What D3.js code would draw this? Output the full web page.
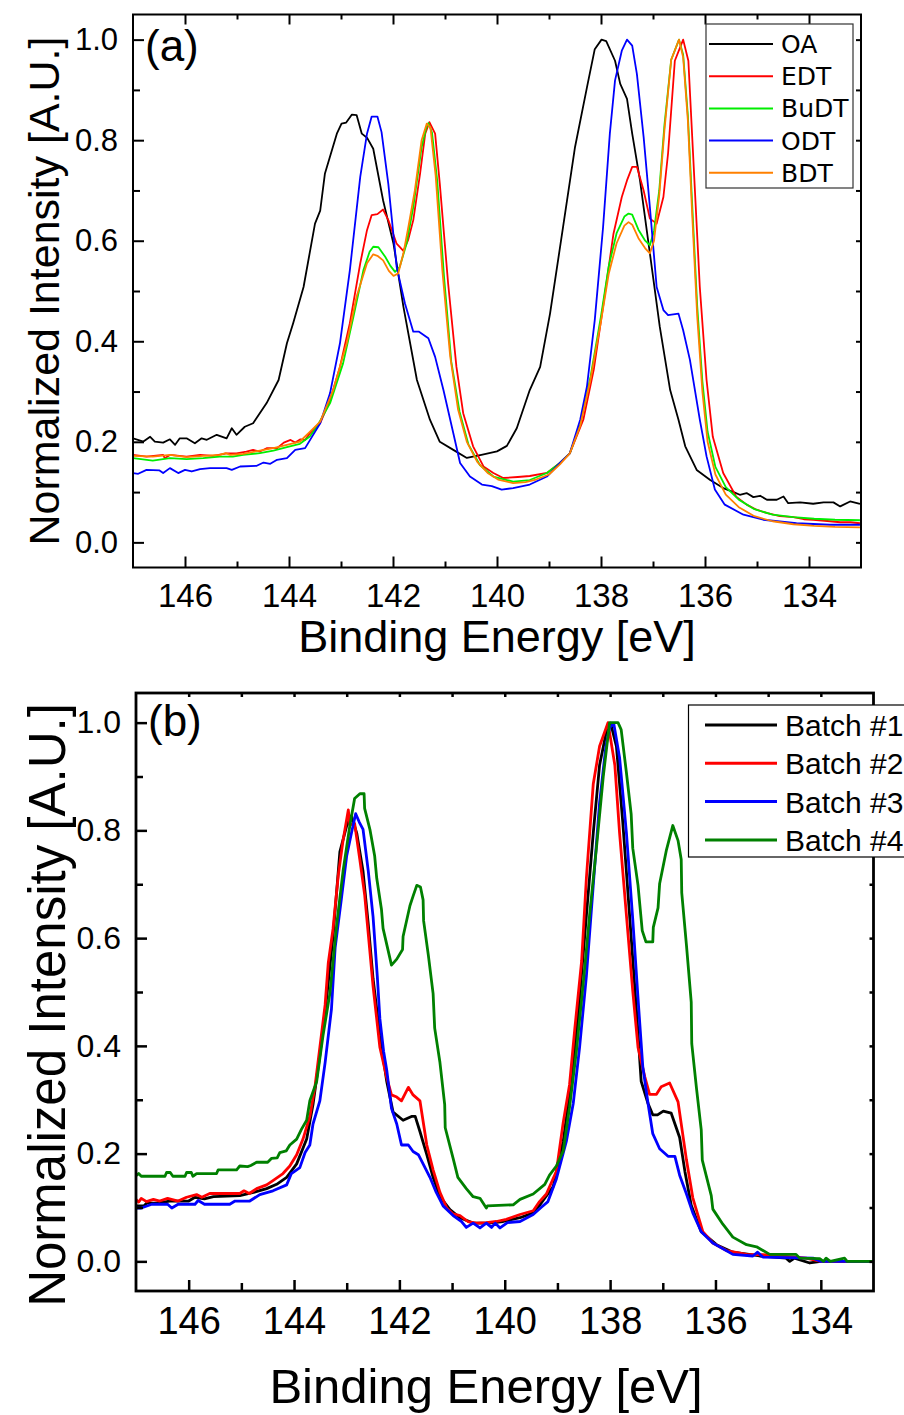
<!DOCTYPE html>
<meta charset="utf-8">

<style>

body {
  margin: 0;
  background: #fff;
}

svg {
  display: block;
}

text {
  font-family: "Liberation Sans", Arial, sans-serif;
  fill: #000;
}

.legend-a text {
  font-family: "DejaVu Sans", sans-serif;
}

.curve {
  fill: none;
  stroke-linejoin: round;
}

</style>
<svg width="904" height="1415"></svg>
<script src="https://d3js.org/d3.v7.min.js"></script>
<script>

// ---- data: [binding energy (eV), normalized intensity] ----

var energyMajor = [146, 144, 142, 140, 138, 136, 134],
    energyMinor = [145, 143, 141, 139, 137, 135],
    intensityMajor = [0, 0.2, 0.4, 0.6, 0.8, 1.0],
    intensityMinor = [0.1, 0.3, 0.5, 0.7, 0.9];

var namesA = ["OA", "EDT", "BuDT", "ODT", "BDT"],
    namesB = ["Batch #1", "Batch #2", "Batch #3", "Batch #4"];

var oaData = [
  [147.0,0.207],[146.8,0.2005],[146.67,0.210],[146.58,0.2005],[146.42,0.1985],[146.29,0.205],
  [146.19,0.194],[146.1,0.207],[145.97,0.207],[145.81,0.197],[145.68,0.207],[145.58,0.204],
  [145.39,0.214],[145.2,0.207],[145.1,0.227],[145.01,0.214],[144.85,0.23],[144.69,0.237],
  [144.43,0.277],[144.2,0.323],[144.04,0.396],[143.92,0.436],[143.72,0.508],[143.5,0.634],
  [143.4,0.66],[143.31,0.733],[143.08,0.813],[142.99,0.833],[142.9,0.835],[142.79,0.851],
  [142.7,0.85],[142.6,0.813],[142.5,0.805],[142.38,0.783],[142.19,0.68],[141.99,0.594],
  [141.8,0.469],[141.54,0.323],[141.29,0.244],[141.1,0.2],[140.84,0.184],[140.58,0.168],
  [140.3,0.174],[140.0,0.181],[139.81,0.192],[139.62,0.227],[139.37,0.303],[139.17,0.349],
  [138.98,0.455],[138.73,0.627],[138.5,0.786],[138.27,0.905],[138.12,0.981],[137.99,1.0],
  [137.9,0.997],[137.73,0.958],[137.63,0.912],[137.5,0.882],[137.4,0.813],[137.25,0.72],
  [137.06,0.575],[136.87,0.429],[136.67,0.303],[136.51,0.244],[136.38,0.191],[136.16,0.144],
  [135.9,0.124],[135.65,0.108],[135.45,0.1],[135.33,0.0947],[135.2,0.098],[135.07,0.09],
  [134.94,0.0927],[134.81,0.0848],[134.62,0.0848],[134.49,0.0913],[134.4,0.078],[134.17,0.0795],
  [133.92,0.0768],[133.72,0.0795],[133.53,0.0795],[133.4,0.0715],[133.21,0.0814],[133.02,0.0768]
];

var edtData = [
  [147.0,0.174],[146.74,0.1707],[146.42,0.174],[146.39,0.1675],[146.29,0.174],[145.97,0.1707],
  [145.71,0.174],[145.46,0.172],[145.2,0.177],[145.01,0.177],[144.82,0.1807],[144.69,0.184],
  [144.56,0.1807],[144.43,0.1873],[144.23,0.1873],[144.1,0.1985],[143.97,0.2038],[143.88,0.1985],
  [143.78,0.205],[143.69,0.2038],[143.6,0.217],[143.4,0.237],[143.21,0.283],[143.02,0.349],
  [142.83,0.436],[142.63,0.555],[142.5,0.621],[142.41,0.651],[142.3,0.653],[142.19,0.662],
  [142.09,0.641],[141.93,0.594],[141.8,0.58],[141.71,0.601],[141.61,0.641],[141.48,0.733],
  [141.38,0.813],[141.3,0.836],[141.19,0.813],[141.1,0.713],[140.94,0.515],[140.78,0.349],
  [140.65,0.257],[140.46,0.191],[140.26,0.151],[140.07,0.138],[139.88,0.128],[139.6,0.13],
  [139.37,0.132],[139.04,0.138],[138.79,0.158],[138.6,0.177],[138.34,0.244],[138.14,0.343],
  [137.96,0.469],[137.76,0.614],[137.6,0.687],[137.5,0.72],[137.4,0.747],[137.31,0.747],
  [137.18,0.7],[137.06,0.644],[136.93,0.634],[136.8,0.687],[136.71,0.774],[136.58,0.958],
  [136.42,1.0],[136.32,0.958],[136.23,0.774],[136.1,0.508],[135.97,0.323],[135.85,0.21],
  [135.65,0.138],[135.4,0.091],[135.2,0.075],[135.01,0.065],[134.8,0.058],[134.56,0.052],
  [134.3,0.05],[134.1,0.046],[133.92,0.045],[133.7,0.043],[133.4,0.04],[133.2,0.04],[133.02,0.038]
];

var budtData = [
  [147.0,0.1675],[146.62,0.1628],[146.29,0.1675],[145.97,0.1655],[145.65,0.1675],[145.33,0.1707],
  [145.08,0.1707],[144.88,0.1741],[144.56,0.1775],[144.3,0.1827],[144.04,0.1893],[143.79,0.196],
  [143.6,0.2105],[143.47,0.229],[143.21,0.277],[142.96,0.356],[142.76,0.449],[142.57,0.541],
  [142.45,0.578],[142.38,0.588],[142.28,0.587],[142.15,0.568],[142.05,0.55],[141.96,0.538],
  [141.87,0.548],[141.74,0.594],[141.61,0.667],[141.45,0.786],[141.36,0.825],[141.32,0.834],
  [141.25,0.815],[141.15,0.72],[141.02,0.53],[140.88,0.36],[140.72,0.26],[140.55,0.195],
  [140.33,0.154],[140.07,0.131],[139.81,0.124],[139.69,0.121],[139.37,0.124],[139.04,0.138],
  [138.79,0.158],[138.6,0.177],[138.4,0.235],[138.2,0.33],[138.0,0.45],[137.85,0.55],
  [137.7,0.615],[137.55,0.648],[137.47,0.654],[137.4,0.652],[137.28,0.622],[137.15,0.6],
  [137.06,0.591],[136.98,0.62],[136.88,0.7],[136.78,0.83],[136.65,0.96],[136.5,1.0],
  [136.42,0.97],[136.33,0.85],[136.25,0.68],[136.15,0.47],[136.05,0.32],[135.95,0.22],
  [135.8,0.15],[135.6,0.11],[135.35,0.085],[135.05,0.066],[134.7,0.055],[134.3,0.05],
  [133.9,0.047],[133.5,0.045],[133.02,0.044]
];

var odtData = [
  [147.0,0.1378],[146.9,0.1364],[146.74,0.1443],[146.49,0.143],[146.42,0.1378],[146.29,0.1477],
  [146.13,0.1378],[146.0,0.1443],[145.87,0.141],[145.71,0.1457],[145.52,0.1477],[145.2,0.1477],
  [145.1,0.1443],[144.94,0.1509],[144.62,0.1523],[144.49,0.1588],[144.36,0.1562],[144.23,0.1642],
  [144.04,0.1675],[143.88,0.184],[143.69,0.1874],[143.4,0.237],[143.21,0.297],[143.02,0.396],
  [142.83,0.541],[142.63,0.727],[142.5,0.813],[142.41,0.847],[142.3,0.847],[142.22,0.816],
  [142.09,0.713],[141.93,0.548],[141.77,0.475],[141.61,0.419],[141.5,0.419],[141.32,0.406],
  [141.19,0.369],[141.03,0.303],[140.84,0.217],[140.71,0.158],[140.52,0.131],[140.29,0.115],
  [140.1,0.112],[139.91,0.105],[139.69,0.108],[139.37,0.115],[139.04,0.131],[138.79,0.158],
  [138.6,0.177],[138.4,0.244],[138.27,0.31],[138.12,0.442],[137.96,0.627],[137.83,0.813],
  [137.73,0.919],[137.6,0.978],[137.5,1.0],[137.4,0.988],[137.31,0.932],[137.18,0.806],
  [137.06,0.667],[136.93,0.508],[136.8,0.462],[136.71,0.452],[136.51,0.455],[136.42,0.422],
  [136.29,0.363],[136.1,0.244],[135.97,0.171],[135.81,0.105],[135.62,0.075],[135.26,0.055],
  [134.88,0.045],[134.24,0.038],[133.6,0.035],[133.02,0.035]
];

var bdtData = [
  [147.0,0.1721],[146.62,0.1707],[146.29,0.174],[145.97,0.1694],[145.65,0.1721],[145.33,0.174],
  [145.22,0.1775],[145.13,0.174],[144.88,0.176],[144.56,0.1827],[144.3,0.1873],[144.04,0.194],
  [143.79,0.2006],[143.56,0.2238],[143.4,0.2403],[143.15,0.303],[142.89,0.396],[142.7,0.489],
  [142.5,0.555],[142.38,0.573],[142.3,0.57],[142.19,0.561],[142.08,0.54],[141.99,0.53],
  [141.9,0.535],[141.8,0.575],[141.7,0.63],[141.58,0.7],[141.45,0.8],[141.35,0.833],
  [141.28,0.825],[141.18,0.73],[141.05,0.54],[140.9,0.37],[140.75,0.265],[140.58,0.2],
  [140.38,0.16],[140.18,0.138],[139.98,0.125],[139.69,0.118],[139.45,0.12],[139.25,0.125],
  [139.0,0.135],[138.79,0.155],[138.6,0.177],[138.4,0.232],[138.2,0.325],[138.0,0.44],
  [137.85,0.535],[137.7,0.595],[137.55,0.63],[137.47,0.637],[137.4,0.632],[137.28,0.605],
  [137.15,0.585],[137.06,0.575],[136.98,0.6],[136.88,0.69],[136.78,0.82],[136.65,0.96],
  [136.5,1.0],[136.42,0.965],[136.33,0.84],[136.25,0.66],[136.15,0.45],[136.05,0.3],
  [135.95,0.2],[135.8,0.135],[135.6,0.095],[135.35,0.07],[135.05,0.052],[134.7,0.042],
  [134.3,0.036],[133.9,0.033],[133.5,0.031],[133.02,0.03]
];

var batch1Data = [
  [147.0,0.103],[146.85,0.103],[146.8,0.108],[146.6,0.108],[146.36,0.112],[146.0,0.112],
  [145.88,0.119],[145.7,0.116],[145.53,0.12],[145.03,0.122],[144.77,0.128],[144.52,0.135],
  [144.33,0.143],[144.14,0.156],[143.95,0.181],[143.76,0.227],[143.64,0.291],[143.51,0.383],
  [143.38,0.49],[143.26,0.603],[143.13,0.76],[143.0,0.809],[142.91,0.827],[142.81,0.795],
  [142.69,0.724],[142.59,0.625],[142.5,0.525],[142.37,0.419],[142.24,0.334],[142.12,0.277],
  [141.93,0.262],[141.77,0.269],[141.7,0.269],[141.61,0.241],[141.48,0.198],[141.36,0.156],
  [141.23,0.12],[141.04,0.096],[140.85,0.081],[140.6,0.071],[140.3,0.071],[140.03,0.074],
  [139.71,0.081],[139.46,0.09],[139.34,0.104],[139.08,0.139],[138.89,0.223],[138.7,0.362],
  [138.58,0.488],[138.45,0.642],[138.32,0.795],[138.2,0.921],[138.07,0.984],[137.99,0.999],
  [137.88,0.956],[137.76,0.816],[137.63,0.642],[137.5,0.467],[137.41,0.334],[137.28,0.293],
  [137.19,0.272],[137.1,0.272],[136.99,0.279],[136.84,0.275],[136.68,0.23],[136.58,0.167],
  [136.46,0.104],[136.27,0.055],[135.98,0.031],[135.67,0.017],[135.16,0.01],[134.66,0.006],
  [134.59,0.0],[134.5,0.006],[134.21,-0.003],[134.0,0.0],[133.0,0.0]
];

var batch2Data = [
  [147.0,0.115],[146.95,0.11],[146.9,0.117],[146.8,0.111],[146.67,0.115],[146.55,0.112],
  [146.4,0.117],[146.2,0.112],[146.04,0.119],[145.85,0.124],[145.75,0.119],[145.6,0.126],
  [145.03,0.126],[144.95,0.131],[144.85,0.126],[144.71,0.135],[144.52,0.142],[144.4,0.15],
  [144.21,0.163],[144.08,0.177],[143.95,0.198],[143.83,0.227],[143.7,0.269],[143.6,0.326],
  [143.51,0.397],[143.41,0.476],[143.35,0.554],[143.26,0.617],[143.16,0.717],[143.07,0.781],
  [142.97,0.838],[142.94,0.81],[142.85,0.813],[142.75,0.745],[142.66,0.681],[142.56,0.575],
  [142.5,0.511],[142.37,0.397],[142.24,0.341],[142.15,0.309],[142.05,0.305],[141.96,0.298],
  [141.83,0.323],[141.74,0.309],[141.61,0.298],[141.48,0.216],[141.36,0.17],[141.23,0.128],
  [141.1,0.099],[140.98,0.088],[140.85,0.085],[140.7,0.074],[140.54,0.071],[140.35,0.072],
  [140.16,0.074],[139.97,0.078],[139.71,0.087],[139.46,0.094],[139.34,0.111],[139.21,0.125],
  [139.02,0.167],[138.89,0.258],[138.77,0.328],[138.67,0.432],[138.54,0.558],[138.45,0.712],
  [138.32,0.886],[138.2,0.956],[138.04,1.0],[137.91,0.921],[137.82,0.795],[137.69,0.642],
  [137.57,0.502],[137.47,0.397],[137.34,0.342],[137.25,0.31],[137.12,0.31],[137.03,0.324],
  [136.87,0.331],[136.71,0.296],[136.55,0.188],[136.43,0.118],[136.24,0.055],[136.05,0.034],
  [135.79,0.02],[135.41,0.013],[134.97,0.012],[134.28,0.006],[134.0,0.0],[133.0,0.0]
];

var batch3Data = [
  [147.0,0.099],[146.9,0.099],[146.7,0.106],[146.4,0.106],[146.32,0.099],[146.2,0.106],
  [145.88,0.106],[145.82,0.113],[145.7,0.106],[145.22,0.106],[145.12,0.112],[144.84,0.112],
  [144.65,0.124],[144.4,0.131],[144.14,0.142],[144.05,0.163],[143.89,0.174],[143.79,0.202],
  [143.7,0.216],[143.64,0.255],[143.51,0.298],[143.41,0.369],[143.29,0.468],[143.22,0.582],
  [143.1,0.674],[143.0,0.753],[142.91,0.795],[142.83,0.831],[142.76,0.815],[142.69,0.802],
  [142.59,0.724],[142.5,0.64],[142.42,0.53],[142.37,0.45],[142.3,0.39],[142.24,0.355],
  [142.15,0.284],[142.05,0.255],[141.96,0.216],[141.83,0.216],[141.74,0.204],[141.64,0.198],
  [141.55,0.181],[141.42,0.156],[141.3,0.128],[141.17,0.103],[140.98,0.085],[140.82,0.074],
  [140.73,0.063],[140.6,0.071],[140.47,0.062],[140.35,0.071],[140.25,0.063],[140.18,0.071],
  [140.09,0.062],[139.95,0.072],[139.71,0.074],[139.46,0.087],[139.3,0.101],[139.18,0.111],
  [139.02,0.153],[138.83,0.223],[138.7,0.293],[138.58,0.397],[138.45,0.53],[138.32,0.698],
  [138.2,0.851],[138.08,0.956],[138.01,0.991],[137.93,0.998],[137.82,0.935],[137.69,0.795],
  [137.57,0.635],[137.47,0.488],[137.38,0.362],[137.28,0.293],[137.19,0.237],[137.06,0.209],
  [136.9,0.195],[136.77,0.195],[136.68,0.16],[136.55,0.125],[136.43,0.09],[136.27,0.055],
  [136.05,0.034],[135.67,0.013],[135.29,0.01],[135.2,0.017],[135.1,0.008],[134.15,0.006],
  [134.0,0.0],[133.0,0.0]
];

var batch4Data = [
  [147.0,0.159],[146.95,0.163],[146.9,0.158],[146.45,0.158],[146.42,0.165],[146.35,0.165],
  [146.3,0.158],[146.07,0.158],[146.04,0.165],[145.95,0.165],[145.92,0.158],[145.85,0.163],
  [145.47,0.163],[145.44,0.17],[145.09,0.17],[145.03,0.177],[144.88,0.176],[144.82,0.178],
  [144.71,0.184],[144.5,0.184],[144.43,0.191],[144.32,0.192],[144.27,0.202],[144.15,0.205],
  [144.08,0.216],[143.95,0.227],[143.86,0.245],[143.76,0.262],[143.7,0.298],[143.57,0.334],
  [143.45,0.419],[143.32,0.497],[143.19,0.625],[143.07,0.724],[142.94,0.809],[142.85,0.859],
  [142.75,0.868],[142.67,0.868],[142.66,0.841],[142.56,0.802],[142.47,0.753],[142.43,0.711],
  [142.34,0.653],[142.31,0.618],[142.15,0.55],[142.05,0.561],[141.94,0.579],[141.93,0.603],
  [141.8,0.66],[141.74,0.678],[141.67,0.698],[141.6,0.695],[141.55,0.671],[141.54,0.632],
  [141.45,0.568],[141.36,0.497],[141.33,0.433],[141.23,0.369],[141.14,0.291],[141.13,0.248],
  [140.98,0.191],[140.89,0.156],[140.73,0.135],[140.6,0.12],[140.47,0.117],[140.35,0.099],
  [140.33,0.103],[139.84,0.105],[139.71,0.115],[139.46,0.125],[139.24,0.143],[139.15,0.16],
  [139.02,0.177],[138.89,0.205],[138.77,0.286],[138.64,0.39],[138.51,0.516],[138.39,0.642],
  [138.26,0.767],[138.13,0.9],[138.01,1.0],[137.85,1.0],[137.79,0.987],[137.69,0.907],
  [137.6,0.83],[137.57,0.767],[137.47,0.698],[137.39,0.614],[137.32,0.593],[137.19,0.593],
  [137.18,0.62],[137.09,0.656],[137.06,0.701],[136.93,0.764],[136.81,0.809],[136.71,0.781],
  [136.65,0.746],[136.64,0.684],[136.55,0.586],[136.46,0.481],[136.45,0.404],[136.36,0.321],
  [136.27,0.244],[136.25,0.188],[136.08,0.122],[136.05,0.097],[135.86,0.069],[135.67,0.045],
  [135.41,0.031],[135.22,0.027],[134.97,0.013],[134.47,0.013],[134.4,0.006],[134.02,0.005],
  [133.95,0.0],[133.9,0.006],[133.82,0.0],[133.55,0.006],[133.5,0.0],[133.0,0.0]
];

// ---- drawing ----

var svg = d3.select("svg");

function drawPanel(p) {
  var x = d3.scaleLinear().domain([147, 133]).range([p.left, p.right]),
      y = d3.scaleLinear().domain(p.yDomain).range([p.bottom, p.top]);

  var g = svg.append("g");

  g.append("clipPath").attr("id", p.id + "-clip")
    .append("rect")
      .attr("x", p.left).attr("y", p.top)
      .attr("width", p.right - p.left).attr("height", p.bottom - p.top);

  var line = d3.line()
      .x(function(d) { return x(d[0]); })
      .y(function(d) { return y(d[1]); });

  g.append("g").attr("clip-path", "url(#" + p.id + "-clip)")
    .selectAll("path")
    .data(p.series)
    .enter().append("path")
      .attr("class", "curve")
      .attr("d", function(d) { return line(d.values); })
      .attr("stroke", function(d) { return d.color; })
      .attr("stroke-width", p.curveWidth);

  function clean(sel, size) {
    sel.select(".domain").remove();
    sel.attr("font-family", null).attr("font-size", size);
    sel.selectAll("line").attr("stroke", "#000").attr("stroke-width", p.tickWidth);
  }

  // bottom
  g.append("g").attr("transform", "translate(0," + p.bottom + ")")
      .call(d3.axisBottom(x).tickValues(energyMajor).tickSize(-11).tickPadding(p.xPad).tickFormat(d3.format("d")))
      .call(clean, p.xFont);
  g.append("g").attr("transform", "translate(0," + p.bottom + ")")
      .call(d3.axisBottom(x).tickValues(energyMinor).tickSize(-p.minorX).tickFormat(""))
      .call(clean, 1);

  // top
  g.append("g").attr("transform", "translate(0," + p.top + ")")
      .call(d3.axisTop(x).tickValues(energyMajor).tickSize(-p.topMajor).tickFormat(""))
      .call(clean, 1);
  g.append("g").attr("transform", "translate(0," + p.top + ")")
      .call(d3.axisTop(x).tickValues(energyMinor).tickSize(-p.topMinor).tickFormat(""))
      .call(clean, 1);

  // left
  g.append("g").attr("transform", "translate(" + p.left + ",0)")
      .call(d3.axisLeft(y).tickValues(intensityMajor).tickSize(-11).tickPadding(p.yPad).tickFormat(d3.format(".1f")))
      .call(clean, p.yFont);
  g.append("g").attr("transform", "translate(" + p.left + ",0)")
      .call(d3.axisLeft(y).tickValues(intensityMinor).tickSize(-7).tickFormat(""))
      .call(clean, 1);

  // right
  g.append("g").attr("transform", "translate(" + p.right + ",0)")
      .call(d3.axisRight(y).tickValues(intensityMajor.concat(intensityMinor)).tickSize(-p.rightTick).tickFormat(""))
      .call(clean, 1);

  g.append("rect")
      .attr("x", p.left).attr("y", p.top)
      .attr("width", p.right - p.left).attr("height", p.bottom - p.top)
      .attr("fill", "none").attr("stroke", "#000").attr("stroke-width", p.frameWidth);

  // panel tag
  g.append("text")
      .attr("x", p.left + 12).attr("y", p.tagY)
      .attr("font-size", 44)
      .text(p.tag);

  // axis titles
  g.append("text")
      .attr("x", p.xTitleX).attr("y", p.xTitleY)
      .attr("text-anchor", "middle")
      .attr("font-size", p.xTitleFont)
      .text("Binding Energy [eV]");

  g.append("text")
      .attr("transform", "translate(" + p.yTitleX + "," + p.yTitleY + ") rotate(-90)")
      .attr("text-anchor", "middle")
      .attr("font-size", p.yTitleFont)
      .text("Normalized Intensity [A.U.]");

  // legend
  var lg = g.append("g").attr("class", p.legend.cls);
  lg.append("rect")
      .attr("x", p.legend.x).attr("y", p.legend.y)
      .attr("width", p.legend.w).attr("height", p.legend.h)
      .attr("fill", "#fff").attr("stroke", p.legend.stroke).attr("stroke-width", 1.2);

  var item = lg.selectAll("g.item")
    .data(p.series)
    .enter().append("g")
      .attr("class", "item")
      .attr("transform", function(d, i) { return "translate(0," + (p.legend.row0 + i * p.legend.step) + ")"; });

  item.append("line")
      .attr("x1", p.legend.lx1).attr("x2", p.legend.lx2)
      .attr("stroke", function(d) { return d.color; })
      .attr("stroke-width", p.legend.lw);

  item.append("text")
      .attr("x", p.legend.tx).attr("y", p.legend.dy)
      .attr("font-size", p.legend.font)
      .text(function(d) { return d.name; });
}

var colorsA = ["#000000", "#ff0000", "#00ee00", "#0000ff", "#ff8000"],
    colorsB = ["#000000", "#ff0000", "#0000ff", "#008000"];

var valuesA = [oaData, edtData, budtData, odtData, bdtData],
    valuesB = [batch1Data, batch2Data, batch3Data, batch4Data];

drawPanel({
  id: "a", tag: "(a)", tagY: 61,
  left: 133, right: 861, top: 14.5, bottom: 567.5, yDomain: [-0.05, 1.05],
  curveWidth: 1.8, tickWidth: 2, frameWidth: 2,
  minorX: 6, topMajor: 10, topMinor: 5, rightTick: 5,
  xFont: 33, xPad: 16, yFont: 31, yPad: 15,
  xTitleX: 497, xTitleY: 652, xTitleFont: 45,
  yTitleX: 59, yTitleY: 291, yTitleFont: 43,
  series: namesA.map(function(n, i) { return {name: n, color: colorsA[i], values: valuesA[i]}; }),
  legend: {cls: "legend-a", x: 706, y: 24, w: 147, h: 164, stroke: "#333",
           row0: 44, step: 32.2, lx1: 709, lx2: 773, lw: 2, tx: 781, dy: 9, font: 25}
});

drawPanel({
  id: "b", tag: "(b)", tagY: 736,
  left: 136, right: 873.5, top: 693, bottom: 1291, yDomain: [-0.055, 1.055],
  curveWidth: 2.8, tickWidth: 2.5, frameWidth: 2.8,
  minorX: 8, topMajor: 4, topMinor: 4, rightTick: 4,
  xFont: 38, xPad: 16, yFont: 32, yPad: 15,
  xTitleX: 486, xTitleY: 1403, xTitleFont: 49,
  yTitleX: 65, yTitleY: 1005, yTitleFont: 51,
  series: namesB.map(function(n, i) { return {name: n, color: colorsB[i], values: valuesB[i]}; }),
  legend: {cls: "legend-b", x: 688.5, y: 705, w: 240, h: 152, stroke: "#000",
           row0: 725, step: 38.3, lx1: 705, lx2: 777, lw: 3, tx: 785, dy: 11, font: 30}
});

</script>
